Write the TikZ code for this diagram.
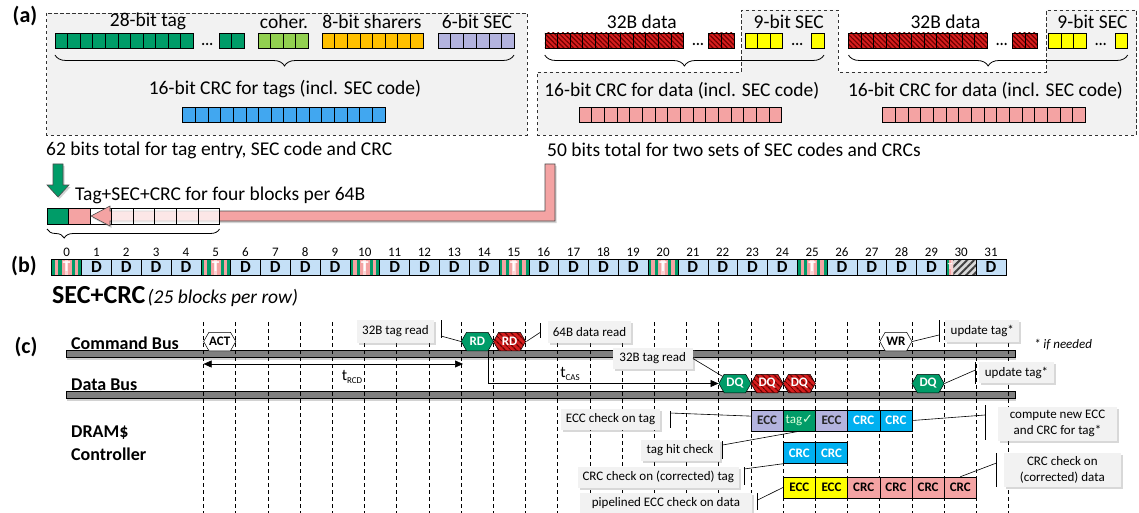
\documentclass[tikz,border=0pt]{standalone}
\usepackage{fontspec}
\setmainfont{Carlito}
\newfontfamily\djv{DejaVu Sans}
\usetikzlibrary{patterns,patterns.meta,shapes.symbols,decorations.pathreplacing,shadows,arrows.meta,calc}
\definecolor{tgreen}{RGB}{0,156,104}
\definecolor{lgreen}{RGB}{146,208,80}
\definecolor{orng}{RGB}{255,192,0}
\definecolor{lav}{RGB}{179,179,222}
\definecolor{tblue}{RGB}{65,167,240}
\definecolor{pinkc}{RGB}{244,163,163}
\definecolor{dred}{RGB}{215,30,30}
\definecolor{dkred}{RGB}{110,0,0}
\definecolor{ylw}{RGB}{255,255,0}
\definecolor{dblue}{RGB}{197,224,247}
\definecolor{cyanb}{RGB}{0,176,240}
\definecolor{boxgray}{RGB}{242,242,242}
\definecolor{busgray}{RGB}{128,128,128}
\tikzset{
  cell/.style={draw=black, line width=0.5pt},
  redc/.style={preaction={fill=dred}, pattern={Lines[angle=-45,distance=3.4pt,line width=1.2pt]}, pattern color=dkred},
  dashbox/.style={draw=black!80, dash pattern=on 3.5pt off 2.5pt, line width=0.7pt, fill=boxgray},
  lbl/.style={inner sep=0pt, font=\fontsize{19.5}{23}\selectfont},
  panel/.style={inner sep=0pt, font=\fontsize{22}{26}\selectfont\bfseries},
  busl/.style={inner sep=0pt, anchor=west, font=\fontsize{18}{21}\selectfont\bfseries},
  brc/.style={decorate, decoration={brace, amplitude=11pt}, line width=0.8pt},
  vline/.style={dash pattern=on 4pt off 3pt, line width=0.7pt},
  barl/.style={line width=0.7pt},
  conn/.style={line width=0.6pt},
  busbar/.style={fill=busgray, draw=black, line width=0.5pt, drop shadow={opacity=0.35, shadow xshift=1pt, shadow yshift=-2.5pt}},
  hexa/.style={shape=signal, signal to=east and west, signal pointer angle=120, minimum width=32.2pt, minimum height=18.5pt, inner sep=0pt, draw=black, line width=0.5pt, font=\fontsize{13}{15}\selectfont\bfseries},
  redhex/.style={preaction={fill=dred}, pattern={Lines[angle=-45,distance=4pt,line width=1.4pt]}, pattern color=dkred},
  cbox/.style={draw=black, line width=0.5pt, minimum width=32.2pt, minimum height=21pt, inner sep=0pt, font=\fontsize{13}{15}\selectfont\bfseries},
  callout/.style={fill=boxgray, drop shadow={opacity=0.3, shadow xshift=2pt, shadow yshift=-2pt}, inner sep=0pt, align=center, font=\fontsize{13}{15.5}\selectfont},
  dblk/.style={draw=black, line width=0.5pt, fill=dblue, minimum width=29.82pt, minimum height=16pt, inner sep=0pt, font=\fontsize{17}{18}\selectfont\bfseries},
  tblk/.style={draw=black, line width=0.5pt, minimum width=29.82pt, minimum height=16pt, inner sep=0pt, text=white, font=\fontsize{15}{17}\selectfont\bfseries},
  num/.style={inner sep=0pt, font=\fontsize{13}{15}\selectfont},
  arr/.style={draw=black!70, line width=0.6pt, drop shadow={opacity=0.35, shadow xshift=1.5pt, shadow yshift=-2pt}}
}
\newcommand{\cellrow}[5]{\foreach \ci in {1,...,#3}{\draw[cell,#5] ({#1+(\ci-1)*#2},#4) rectangle ++(#2,15);}}
\newcommand{\dotrow}[1]{\foreach \di in {-4,0,4}{\fill ({#1+\di},44) circle (1.25);}}
\begin{document}
\begin{tikzpicture}[x=1pt,y=-1pt]
\useasboundingbox (0,0) rectangle (1139,513);
\fill[white] (0,0) rectangle (1139,513);
% ---------------- (a)
\draw[dashbox] (46.5,13) rectangle (527,135);
\draw[dashbox] (537.8,72) -- (741.6,72) -- (741.6,10) -- (838,10) -- (838,72) -- (1046.5,72) -- (1046.5,10) -- (1136.5,10) -- (1136.5,135) -- (537.8,135) -- cycle;
\node[panel] (pa) at (25,16) {(a)};
\node[lbl] (t28) at (148,21.5) {28-bit tag};
\node[lbl] (tco) at (284,21.5) {coher.};
\node[lbl] (tsh) at (372,21.5) {8-bit sharers};
\node[lbl] (tse) at (477,21.5) {6-bit SEC};
\cellrow{55}{12.55}{11}{33}{fill=tgreen}
\dotrow{207}
\cellrow{219}{12.5}{2}{33}{fill=tgreen}
\cellrow{258}{12.5}{4}{33}{fill=lgreen}
\cellrow{322}{12.6}{8}{33}{fill=orng}
\cellrow{438}{12.7}{6}{33}{fill=lav}
\draw[brc] (514,55) -- (55,55);
\node[lbl] (tcrc) at (285,89) {16-bit CRC for tags (incl. SEC code)};
\cellrow{182.5}{12.65}{16}{107}{fill=tblue}
\foreach \xo/\k in {544.8/1,848.5/2}{
  \node[lbl] (data\k) at ({\xo+97},21.5) {32B data};
  \node[lbl] (sec\k) at ({\xo+244},21.5) {9-bit SEC};
  \cellrow{\xo}{12.6}{11}{33}{redc}
  \dotrow{\xo+153}
  \cellrow{\xo+163.8}{12.65}{2}{33}{redc}
  \cellrow{\xo+200}{12.5}{3}{33}{fill=ylw}
  \dotrow{\xo+252.2}
  \cellrow{\xo+266.8}{12.4}{1}{33}{fill=ylw}
  \draw[brc] ({\xo+279.2},55) -- (\xo,55);
  \node[lbl] (crcd\k) at ({\xo+137},91) {16-bit CRC for data (incl. SEC code)};
  \cellrow{\xo+34.2}{12.65}{16}{107}{fill=pinkc}
}
\node[lbl, anchor=west] (tot1) at (46,150) {62 bits total for tag entry, SEC code and CRC};
\node[lbl, anchor=west] (tot2) at (547,150) {50 bits total for two sets of SEC codes and CRCs};
\draw[arr, fill=tgreen] (53,164) -- (63,164) -- (63,185) -- (69,185) -- (58,197) -- (47,185) -- (53,185) -- cycle;
\node[lbl, anchor=west] (t4) at (75,195) {Tag+SEC+CRC for four blocks per 64B};
\draw[cell, fill=tgreen] (47,208) rectangle (68.5,224);
\draw[cell, fill=pinkc] (68.5,208) rectangle (90,224);
\draw[cell, fill=white] (90,208) rectangle (111.5,224);
\draw[arr, fill=pinkc] (555,164) -- (555,221) -- (110,221) -- (110,226) -- (91,216) -- (110,206) -- (110,211) -- (545,211) -- (545,164) -- cycle;
\foreach \i in {0,...,4}{\draw[cell, fill=white, fill opacity=0.75] ({111.5+\i*21.6},208) rectangle ++(21.6,16);}
\draw[decorate, decoration={brace, amplitude=9pt, aspect=0.9}, line width=0.8pt] (219.5,229) -- (47,229);
% ---------------- (b)
\node[panel] (pb) at (24,266) {(b)};
\foreach \k in {0,...,31}{\node[num] (n\k) at ({51.7+29.82*\k+14.91},252) {\k};}
\foreach \k in {1,2,3,4,6,7,8,9,11,12,13,14,16,17,18,19,21,22,23,24,26,27,28,29,31}{
  \node[dblk] (b\k) at ({51.7+29.82*\k+14.91},267) {D};}
\foreach \k in {0,5,10,15,20,25}{
  \foreach \j/\c in {0/tgreen,1/pinkc,2/tgreen,3/pinkc,4/pinkc!45,5/pinkc,6/tgreen,7/pinkc,8/tgreen}{
    \fill[\c] ({51.7+29.82*\k+\j*3.3133},259) rectangle ++(3.3133,16);}
  \node[tblk] (b\k) at ({51.7+29.82*\k+14.91},267) {T};}
\fill[tgreen] (946.3,259) rectangle (948.6,275);
\fill[pinkc] (948.6,259) rectangle (950.9,275);
\fill[pinkc!50] (950.9,259) rectangle (953.3,275);
\fill[preaction={fill=gray!30}, pattern={Lines[angle=45,distance=5pt,line width=2pt]}, pattern color=black!75] (953.3,259) rectangle (976.1,275);
\node[tblk, fill=none] (b30) at (961.2,267) {};
\node[inner sep=0pt, text=white, font=\fontsize{9}{10}\selectfont\bfseries] (b30t) at (950.2,267) {T};
\node[inner sep=0pt, anchor=west] (secl) at (52,297) {{\fontsize{26}{30}\selectfont\bfseries SEC+CRC} {\fontsize{19.5}{23}\selectfont\itshape (25 blocks per row)}};
% ---------------- (c)
\node[panel] (pc) at (26,347) {(c)};
\node[busl] (cmd) at (71,343) {Command Bus};
\node[busl] (dat) at (71,385) {Data Bus};
\node[busl] (dram) at (71,433) {DRAM\$};
\node[busl] (ctrl) at (71,454) {Controller};
\draw[busbar] (66,350.5) rectangle (1015,357.5);
\draw[busbar] (66,391.5) rectangle (1015,398.5);
\foreach \i in {0,...,25}{\draw[vline] ({203.6+32.2*\i},322) -- ({203.6+32.2*\i},513);}
% hexagons
\node[hexa, fill=white] (act) at (219.7,341.5) {ACT};
\node[hexa, fill=tgreen, text=white] (rdg) at (477.3,341.5) {RD};
\node[hexa, redhex, text=white] (rdr) at (509.5,341.5) {RD};
\node[hexa, fill=white] (wr) at (895.9,341.5) {WR};
\node[hexa, fill=tgreen, text=white] (dq1) at (734.9,383.5) {DQ};
\node[hexa, redhex, text=white] (dq2) at (767.1,383.5) {DQ};
\node[hexa, redhex, text=white] (dq3) at (799.3,383.5) {DQ};
\node[hexa, fill=tgreen, text=white] (dq4) at (928.1,383.5) {DQ};
% timing arrows
\coordinate (rcdL) at (203.6,364);
\coordinate (rcdR) at (463,364);
\draw[conn, {Triangle[length=8pt,width=7pt]}-{Triangle[length=8pt,width=7pt]}] (rcdL) -- (rcdR);
\node[inner sep=0pt, font=\fontsize{16}{18}\selectfont] (trcd) at (352,377) {t{\fontsize{9}{10}\selectfont\raisebox{-2.5pt}{RCD}}};
\coordinate (casS) at (488,350.5);
\draw[line width=0.9pt, -{Triangle[length=8pt,width=7pt]}] (casS) |- (dq1.west);
\node[inner sep=0pt, font=\fontsize{16}{18}\selectfont] (tcas) at (570,374) {t{\fontsize{9}{10}\selectfont\raisebox{-2.5pt}{CAS}}};
% controller boxes
\node[cbox, fill=lav, text=black!85] (r1a) at (767.1,420.5) {ECC};
\node[cbox, fill=tgreen, text=white!85!green, font=\fontsize{13}{15}\selectfont] (r1b) at (799.3,420.5) {tag{\djv\bfseries ✓}};
\node[cbox, fill=lav, text=black!85] (r1c) at (831.5,420.5) {ECC};
\node[cbox, fill=cyanb, text=white] (r1d) at (863.7,420.5) {CRC};
\node[cbox, fill=cyanb, text=white] (r1e) at (895.9,420.5) {CRC};
\node[cbox, fill=cyanb, text=white] (r2a) at (799.3,453) {CRC};
\node[cbox, fill=cyanb, text=white] (r2b) at (831.5,453) {CRC};
\node[cbox, fill=ylw] (r3a) at (799.3,487.5) {ECC};
\node[cbox, fill=ylw] (r3b) at (831.5,487.5) {ECC};
\node[cbox, fill=pinkc] (r3c) at (863.7,487.5) {CRC};
\node[cbox, fill=pinkc] (r3d) at (895.9,487.5) {CRC};
\node[cbox, fill=pinkc] (r3e) at (928.1,487.5) {CRC};
\node[cbox, fill=pinkc] (r3f) at (960.3,487.5) {CRC};
% callouts
\node[callout, minimum width=77pt, minimum height=23pt] (ctag1) at (395.5,331.5) {32B tag read};
\node[callout, minimum width=83pt, minimum height=22pt] (c64) at (589.5,332) {64B data read};
\node[callout, minimum width=74pt, minimum height=22pt] (cupd1) at (982.3,331) {update tag*};
\node[callout, minimum width=80pt, minimum height=21pt] (ctag2) at (652.7,358.5) {32B tag read};
\node[callout, minimum width=75pt, minimum height=21pt] (cupd2) at (1016.5,372.5) {update tag*};
\node[callout, minimum width=99pt, minimum height=21pt] (cecc) at (610.5,419.5) {ECC check on tag};
\node[callout, minimum width=79pt, minimum height=21pt] (chit) at (680,450) {tag hit check};
\node[callout, minimum width=161pt, minimum height=21pt] (ccrct) at (658.3,477) {CRC check on (corrected) tag};
\node[callout, minimum width=119pt, minimum height=34pt] (ccomp) at (1057.5,423.5) {compute new ECC\\and CRC for tag*};
\node[callout, minimum width=117pt, minimum height=34pt] (ccrcd) at (1062.3,470) {CRC check on\\(corrected) data};
\node[callout, minimum width=172pt, minimum height=20pt] (cpipe) at (666,503) {pipelined ECC check on data};
\node[inner sep=0pt, font=\fontsize{13}{15}\selectfont\itshape] (ifn) at (1063,345) {* if needed};
% callout bars
\draw[barl] (441,320) -- (441,338);
\draw[barl] (540,323) -- (540,338);
\draw[barl] (939,320) -- (939,342);
\draw[barl] (975.4,362) -- (975.4,384);
\draw[barl] (670,411) -- (670,428);
\draw[barl] (722.6,441) -- (722.6,459);
\draw[barl] (744,467) -- (744,485);
\draw[barl] (985,405) -- (985,440);
\draw[barl] (996.5,453) -- (996.5,487);
\draw[barl] (757.7,493) -- (757.7,510);
% connectors
\coordinate (k1) at (441,336);
\coordinate (k2) at (540,332.5);
\coordinate (k3) at (939,335);
\coordinate (k5) at (975.4,370);
\coordinate (k6) at (670,413);
\coordinate (k7) at (722.6,445);
\coordinate (k8) at (744,469);
\coordinate (k9) at (985,415);
\coordinate (k10) at (996.5,463);
\coordinate (k11) at (757.7,500);
\draw[conn] (rdg.west) -- (k1);
\draw[conn] (rdr.east) -- (k2);
\draw[conn] (wr.east) -- (k3);
\draw[conn] (ctag2.east) -- (dq1.150);
\draw[conn] (dq4.east) -- (k5);
\draw[conn] (k6) -- (r1a.165);
\draw[conn] (k7) -- (r1b.south);
\draw[conn] (k8) -- (r2a.south west);
\draw[conn] (r1e.east) -- (k9);
\draw[conn] (r3f.north) -- (k10);
\draw[conn] (k11) -- (r3a.west);
\end{tikzpicture}
\end{document}
